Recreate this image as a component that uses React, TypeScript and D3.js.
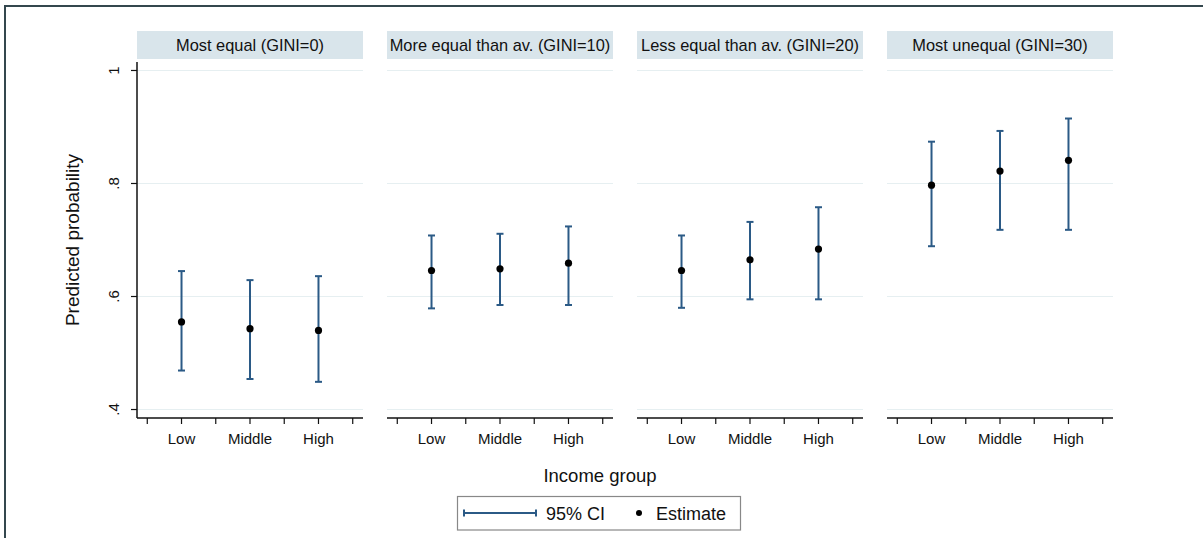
import React from "react";
import * as d3 from "d3";

const panels = [
  "Most equal (GINI=0)",
  "More equal than av. (GINI=10)",
  "Less equal than av. (GINI=20)",
  "Most unequal (GINI=30)",
];
const categories = ["Low", "Middle", "High"];
// estimates per panel (Low, Middle, High)
const estimates = [
  [0.555, 0.543, 0.54],
  [0.646, 0.649, 0.659],
  [0.646, 0.665, 0.684],
  [0.797, 0.822, 0.841],
];
const ciLower = [
  [0.469, 0.454, 0.449],
  [0.579, 0.585, 0.585],
  [0.58, 0.595, 0.595],
  [0.689, 0.718, 0.718],
];
const ciUpper = [
  [0.645, 0.629, 0.636],
  [0.708, 0.711, 0.724],
  [0.708, 0.732, 0.758],
  [0.874, 0.893, 0.915],
];
const yTicks = [0.4, 0.6, 0.8, 1];
const yTickLabels = [".4", ".6", ".8", "1"];
const xTicks = [0.5, 1, 1.5, 2, 2.5, 3, 3.5];

const W = 1203;
const H = 538;
const FONT = "'Liberation Sans', Arial, sans-serif";
const CI_COLOR = "#2b5a86";

export default function App() {
  const plotTop = 62;
  const plotBottom = 418;
  const y = d3.scaleLinear().domain([0.385, 1.015]).range([plotBottom, plotTop]);
  const panelW = 226;
  const panelX = d3
    .scalePoint<number>()
    .domain(d3.range(panels.length))
    .range([137, 887]);

  return (
    <svg
      width={W}
      height={H}
      style={{ position: "absolute", left: 0, top: 0, background: "#fff" }}
      fontFamily={FONT}
    >
      <rect x={0} y={0} width={W} height={H} fill="#fff" />
      {/* frame */}
      <line x1={4} x2={W} y1={6} y2={6} stroke="#34474e" strokeWidth={2} />
      <line x1={5} x2={5} y1={5} y2={H} stroke="#34474e" strokeWidth={2} />

      {panels.map((title, pi) => {
        const x0 = panelX(pi)!;
        const x = d3.scaleLinear().domain([0.35, 3.65]).range([x0, x0 + panelW]);
        return (
          <g key={pi}>
            {/* strip */}
            <rect x={x0} y={31} width={panelW} height={28} fill="#d9e5eb" />
            <text
              x={x0 + panelW / 2}
              y={50.5}
              textAnchor="middle"
              fontSize={16.4}
              fill="#111"
            >
              {title}
            </text>
            {/* gridlines */}
            {yTicks.map((t) => (
              <line
                key={t}
                x1={x0}
                x2={x0 + panelW}
                y1={y(t)}
                y2={y(t)}
                stroke="#e6eff1"
                strokeWidth={1.2}
              />
            ))}
            {/* x axis */}
            <line x1={x0} x2={x0 + panelW} y1={plotBottom} y2={plotBottom} stroke="#111" strokeWidth={1.5} />
            {xTicks.map((t) => (
              <line key={t} x1={x(t)} x2={x(t)} y1={plotBottom} y2={plotBottom + 6} stroke="#111" strokeWidth={1.2} />
            ))}
            {categories.map((c, ci) => (
              <text key={c} x={x(ci + 1)} y={444} textAnchor="middle" fontSize={15} fill="#111">
                {c}
              </text>
            ))}
            {/* error bars */}
            {categories.map((c, ci) => {
              const cx = x(ci + 1);
              const lo = y(ciLower[pi][ci]);
              const hi = y(ciUpper[pi][ci]);
              return (
                <g key={c}>
                  <line x1={cx} x2={cx} y1={lo} y2={hi} stroke={CI_COLOR} strokeWidth={2} />
                  <line x1={cx - 3.5} x2={cx + 3.5} y1={lo} y2={lo} stroke={CI_COLOR} strokeWidth={2} />
                  <line x1={cx - 3.5} x2={cx + 3.5} y1={hi} y2={hi} stroke={CI_COLOR} strokeWidth={2} />
                  <circle cx={cx} cy={y(estimates[pi][ci])} r={3.6} fill="#000" />
                </g>
              );
            })}
          </g>
        );
      })}

      {/* y axis on first panel */}
      <line x1={137} x2={137} y1={plotTop} y2={plotBottom} stroke="#111" strokeWidth={1.5} />
      {yTicks.map((t, i) => (
        <g key={t}>
          <line x1={131} x2={137} y1={y(t)} y2={y(t)} stroke="#111" strokeWidth={1.2} />
          <text
            transform={`translate(119,${y(t)}) rotate(-90)`}
            textAnchor="middle"
            fontSize={15}
            fill="#111"
          >
            {yTickLabels[i]}
          </text>
        </g>
      ))}
      <text
        transform={`translate(79,${(plotTop + plotBottom) / 2}) rotate(-90)`}
        textAnchor="middle"
        fontSize={19}
        fill="#111"
      >
        Predicted probability
      </text>
      <text x={600} y={482} textAnchor="middle" fontSize={18.5} fill="#111">
        Income group
      </text>

      {/* legend */}
      <rect x={457.5} y={496.5} width={283} height={33.5} fill="#fff" stroke="#888" strokeWidth={1.2} />
      <line x1={464} x2={536} y1={513} y2={513} stroke={CI_COLOR} strokeWidth={2} />
      <line x1={464} x2={464} y1={509.5} y2={516.5} stroke={CI_COLOR} strokeWidth={2} />
      <line x1={536} x2={536} y1={509.5} y2={516.5} stroke={CI_COLOR} strokeWidth={2} />
      <text x={546} y={520} fontSize={18} fill="#111">95% CI</text>
      <circle cx={639} cy={513} r={3} fill="#000" />
      <text x={656} y={520} fontSize={18} fill="#111">Estimate</text>
    </svg>
  );
}
